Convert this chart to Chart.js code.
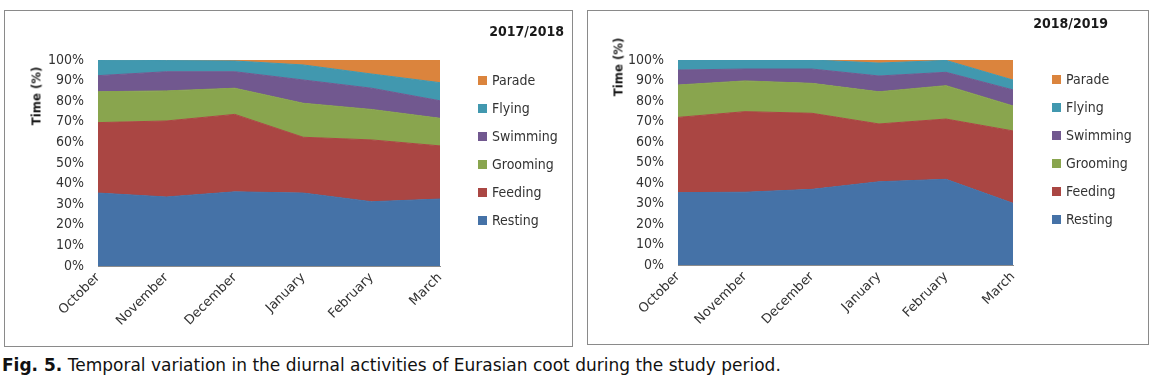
<!DOCTYPE html>
<html lang="en">
<head>
    <meta charset="UTF-8">
    <title>Diurnal activities of Eurasian coot</title>
    <script src="https://cdn.jsdelivr.net/npm/chart.js"></script>
    <style>
        body { margin: 0; width: 1155px; height: 381px; background: #fff; position: relative; overflow: hidden;
               font-family: 'DejaVu Sans Condensed', 'DejaVu Sans', sans-serif; color: #1a1a1a; }
        .panel { position: absolute; border: 1px solid #8a8a8a; box-sizing: border-box; background: #fff; }
        .panel canvas { position: absolute; left: 0; top: 0; }
        .year { position: absolute; font-weight: bold; font-size: 14px; line-height: 16px; }
        .ytitle { position: absolute; font-weight: bold; font-size: 13px; white-space: nowrap;
                  transform: translate(-50%, -50%) rotate(-90deg); }
        .legend { position: absolute; list-style: none; margin: 0; padding: 0; font-size: 14px; color: #333; }
        .legend li { height: 28px; line-height: 28px; white-space: nowrap; }
        .legend span { display: inline-block; width: 9px; height: 9px; margin-right: 5px; vertical-align: -0px; }
        .caption { position: absolute; left: 2px; top: 355px; font-family: 'DejaVu Sans', sans-serif;
                   font-size: 17px; line-height: 20px; white-space: nowrap; color: #111; }
    </style>
</head>
<body>

<div class="panel" id="p1" style="left:4px; top:10px; width:569px; height:337px;">
    <canvas id="chart1" width="567" height="335"></canvas>
    <div class="year" style="right:8px; top:12px;">2017/2018</div>
    <div class="ytitle" style="left:31px; top:85px;">Time (%)</div>
    <ul class="legend" id="legend1" style="left:473px; top:55px;"></ul>
</div>

<div class="panel" id="p2" style="left:587px; top:10px; width:562px; height:335px;">
    <canvas id="chart2" width="560" height="333"></canvas>
    <div class="year" style="right:40px; top:4px;">2018/2019</div>
    <div class="ytitle" style="left:30px; top:56px;">Time (%)</div>
    <ul class="legend" id="legend2" style="left:464px; top:54px;"></ul>
</div>

<div class="caption"><b>Fig. 5.</b> Temporal variation in the diurnal activities of Eurasian coot during the study period.</div>

<script>
    // months on the x axis
    const months = ['October', 'November', 'December', 'January', 'February', 'March'];
    const activities = ['Resting', 'Feeding', 'Grooming', 'Swimming', 'Flying', 'Parade'];
    const activityColors = ['#4572a7', '#aa4643', '#89a54e', '#71588f', '#4198af', '#db843d'];

    // 2017/2018 season, % of time
    const resting1718  = [35.4, 33.5, 36.0, 35.4, 31.2, 32.5];
    const feeding1718  = [34.2, 36.9, 37.6, 27.1, 30.0, 25.8];
    const grooming1718 = [15.0, 14.6, 12.7, 16.5, 14.8, 13.4];
    const swimming1718 = [7.8, 9.3, 8.0, 11.3, 10.3, 8.5];
    const flying1718   = [7.6, 5.4, 5.2, 7.3, 6.9, 8.8];
    const parade1718   = [0.0, 0.3, 0.5, 2.4, 6.8, 11.0];

    // 2018/2019 season, % of time
    const resting1819  = [35.3, 35.5, 36.9, 40.6, 41.8, 30.1];
    const feeding1819  = [36.7, 39.3, 37.1, 28.2, 29.4, 35.3];
    const grooming1819 = [15.8, 15.0, 14.6, 15.7, 16.3, 12.2];
    const swimming1819 = [7.3, 5.8, 7.0, 7.7, 6.5, 7.8];
    const flying1819   = [4.9, 4.4, 4.4, 6.3, 5.8, 4.8];
    const parade1819   = [0.0, 0.0, 0.0, 1.5, 0.2, 9.8];

    const FONT = "'DejaVu Sans Condensed', 'DejaVu Sans', sans-serif";

    function buildLegend(id) {
        const ul = document.getElementById(id);
        // Excel lists the top series first
        for (let i = activities.length - 1; i >= 0; i--) {
            let li = document.createElement('li');
            let box = document.createElement('span');
            box.style.background = activityColors[i];
            li.appendChild(box);
            li.appendChild(document.createTextNode(activities[i]));
            ul.appendChild(li);
        }
    }

    function makeChart(canvasId, series, area) {
        const ctx = document.getElementById(canvasId).getContext('2d');
        return new Chart(ctx, {
            type: 'line',
            data: {
                labels: months,
                datasets: series.map((values, i) => ({
                    label: activities[i],
                    data: values,
                    backgroundColor: activityColors[i],
                    borderColor: activityColors[i],
                    borderWidth: 1,
                    pointRadius: 0,
                    tension: 0,
                    fill: i === 0 ? 'origin' : '-1'
                }))
            },
            options: {
                responsive: false,
                animation: false,
                events: [],
                layout: { padding: { left: 0, top: area.top, right: area.right, bottom: 0 } },
                plugins: { legend: { display: false }, tooltip: { enabled: false } },
                scales: {
                    x: {
                        offset: false,
                        grid: { display: false, drawTicks: false },
                        border: { display: true, color: '#8c8c8c' },
                        ticks: { autoSkip: false, minRotation: 45, maxRotation: 45, padding: 4,
                                 color: '#333', font: { family: "'DejaVu Sans', sans-serif", size: 13 } },
                        afterFit: scale => { scale.height = area.xHeight; }
                    },
                    y: {
                        stacked: true,
                        min: 0,
                        max: 100,
                        grid: { display: false, drawTicks: false },
                        border: { display: true, color: '#8c8c8c' },
                        ticks: { stepSize: 10, padding: 14, color: '#333',
                                 font: { family: FONT, size: 14 },
                                 callback: v => v + '%' },
                        afterFit: scale => { scale.width = area.yWidth; }
                    }
                }
            }
        });
    }

    document.addEventListener('DOMContentLoaded', function () {
        buildLegend('legend1');
        buildLegend('legend2');
        makeChart('chart1',
            [resting1718, feeding1718, grooming1718, swimming1718, flying1718, parade1718],
            { top: 49, right: 567 - 435, xHeight: 80, yWidth: 93 });
        makeChart('chart2',
            [resting1819, feeding1819, grooming1819, swimming1819, flying1819, parade1819],
            { top: 49, right: 560 - 425, xHeight: 79, yWidth: 90 });
    });
</script>
</body>
</html>
